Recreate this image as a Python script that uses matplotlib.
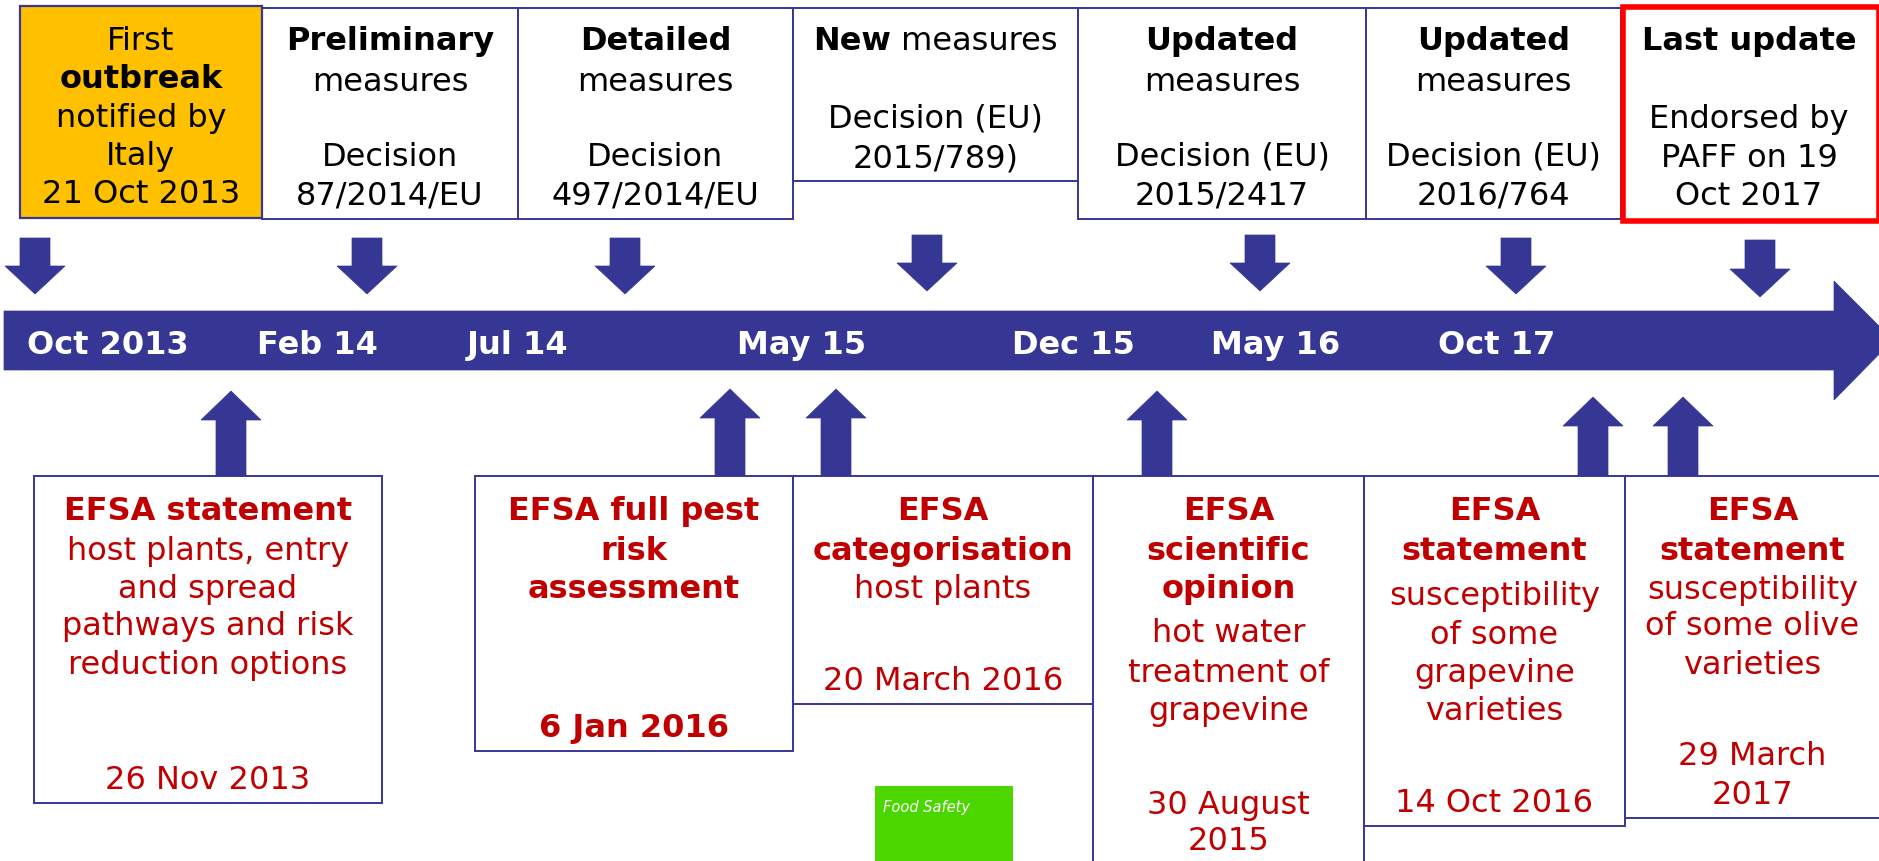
import matplotlib
matplotlib.use("Agg")
import matplotlib.pyplot as plt
from matplotlib.patches import Rectangle, Polygon, FancyArrow

NAVY = "#363795"
RED_TXT = "#c00000"
W, H = 1879, 862
FS = 23

# timeline labels on the band
band_labels = ["Oct 2013", "Feb 14", "Jul 14", "May 15", "Dec 15", "May 16", "Oct 17"]
band_x = [108, 317, 518, 802, 1073, 1276, 1497]

# top row: decisions (lines: text, bold)
top_edges = [20, 262, 518, 793, 1078, 1366, 1621, 1877]
top_bottoms = [219, 220, 220, 182, 220, 220, 221]
top_texts = [
    [("First", 0, 38), ("outbreak", 1, 76), ("notified by", 0, 115), ("Italy", 0, 153), ("21 Oct 2013", 0, 191)],
    [("Preliminary", 1, 38), ("measures", 0, 79), ("Decision", 0, 154), ("87/2014/EU", 0, 193)],
    [("Detailed", 1, 38), ("measures", 0, 79), ("Decision", 0, 154), ("497/2014/EU", 0, 193)],
    [(("New", " measures"), 2, 38), ("Decision (EU)", 0, 116), ("2015/789)", 0, 155)],
    [("Updated", 1, 38), ("measures", 0, 79), ("Decision (EU)", 0, 154), ("2015/2417", 0, 193)],
    [("Updated", 1, 38), ("measures", 0, 79), ("Decision (EU)", 0, 154), ("2016/764", 0, 193)],
    [("Last update", 1, 38), ("Endorsed by", 0, 116), ("PAFF on 19", 0, 155), ("Oct 2017", 0, 193)],
]
down_x = [35, 367, 625, 927, 1260, 1516, 1760]
down_top = [239, 239, 239, 236, 236, 239, 241]
down_tip = [295, 295, 295, 292, 292, 295, 298]

# bottom row: EFSA outputs
bot_boxes = [(34, 382, 804), (475, 793, 752), (793, 1093, 705),
             (1093, 1364, 880), (1364, 1625, 827), (1625, 1880, 819)]
bot_texts = [
    [("EFSA statement", 1, 508), ("host plants, entry", 0, 548), ("and spread", 0, 586),
     ("pathways and risk", 0, 623), ("reduction options", 0, 662), ("26 Nov 2013", 0, 777)],
    [("EFSA full pest", 1, 508), ("risk", 1, 548), ("assessment", 1, 586), ("6 Jan 2016", 1, 725)],
    [("EFSA", 1, 508), ("categorisation", 1, 548), ("host plants", 0, 586), ("20 March 2016", 0, 678)],
    [("EFSA", 1, 508), ("scientific", 1, 548), ("opinion", 1, 586), ("hot water", 0, 630),
     ("treatment of", 0, 670), ("grapevine", 0, 708), ("30 August", 0, 802), ("2015", 0, 838)],
    [("EFSA", 1, 508), ("statement", 1, 548), ("susceptibility", 0, 593), ("of some", 0, 632),
     ("grapevine", 0, 670), ("varieties", 0, 708), ("14 Oct 2016", 0, 800)],
    [("EFSA", 1, 508), ("statement", 1, 548), ("susceptibility", 0, 587), ("of some olive", 0, 623),
     ("varieties", 0, 662), ("29 March", 0, 753), ("2017", 0, 792)],
]
up_x = [231, 730, 836, 1157, 1593, 1683]
up_tip = [392, 390, 390, 392, 398, 398]
box_top = 477

fig = plt.figure(figsize=(W / 100, H / 100), dpi=100)
ax = fig.add_axes([0, 0, 1, 1])
ax.set_xlim(0, W)
ax.set_ylim(H, 0)
ax.axis("off")


def put(x, yc, s, bold, color):
    ax.text(x, yc + 12, s, ha="center", va="baseline", fontsize=FS, color=color,
            fontweight="bold" if bold else "normal", family="DejaVu Sans")


# top boxes
for i, lines in enumerate(top_texts):
    x0, x1 = top_edges[i], top_edges[i + 1]
    y0 = 7 if i in (0, 6) else 9
    if i == 0:
        ax.add_patch(Rectangle((x0, y0), x1 - x0, top_bottoms[i] - y0, fc="#FFC000", ec=NAVY, lw=1.6, zorder=2))
    elif i == 6:
        ax.add_patch(Rectangle((x0 + 2, y0 + 1), x1 - x0, top_bottoms[i] - y0, fc="white", ec="#FF0000", lw=4, zorder=3))
    else:
        ax.add_patch(Rectangle((x0, y0), x1 - x0, top_bottoms[i] - y0, fc="white", ec=NAVY, lw=1.4, zorder=1))
    xc = (x0 + x1) / 2
    for s, b, yc in lines:
        if b == 2:
            # mixed bold / regular line
            fig.canvas.draw()
            r = fig.canvas.get_renderer()
            t1 = ax.text(0, yc + 12, s[0], fontsize=FS, fontweight="bold", va="baseline", color="black", zorder=4)
            t2 = ax.text(0, yc + 12, s[1], fontsize=FS, va="baseline", color="black", zorder=4)
            w1 = t1.get_window_extent(r).width
            w2 = t2.get_window_extent(r).width
            left = xc - (w1 + w2) / 2
            t1.set_x(left)
            t2.set_x(left + w1)
        else:
            ax.text(xc, yc + 12, s, ha="center", va="baseline", fontsize=FS, color="black",
                    fontweight="bold" if b else "normal", zorder=4)

# down arrows
for x, t, tip in zip(down_x, down_top, down_tip):
    ax.add_patch(FancyArrow(x, t, 0, tip - t, width=30, head_width=60, head_length=28,
                            length_includes_head=True, fc=NAVY, ec=NAVY, lw=0.5))

# band
ax.add_patch(Polygon([(4, 312), (1834, 312), (1834, 282), (1893, 341), (1834, 401), (1834, 371), (4, 371)],
                     closed=True, fc=NAVY, ec=NAVY, lw=0.5))
for s, x in zip(band_labels, band_x):
    ax.text(x, 342 + 12, s, ha="center", va="baseline", fontsize=FS, color="white", fontweight="bold")

# up arrows
for x, tip in zip(up_x, up_tip):
    ax.add_patch(FancyArrow(x, box_top, 0, tip - box_top, width=30, head_width=60, head_length=29,
                            length_includes_head=True, fc=NAVY, ec=NAVY, lw=0.5))

# bottom boxes
for (x0, x1, yb), lines in zip(bot_boxes, bot_texts):
    ax.add_patch(Rectangle((x0, box_top), x1 - x0, yb - box_top, fc="white", ec=NAVY, lw=1.4, zorder=1))
    xc = (x0 + x1) / 2
    for s, b, yc in lines:
        ax.text(xc, yc + 12, s, ha="center", va="baseline", fontsize=FS, color=RED_TXT,
                fontweight="bold" if b else "normal", zorder=4)

# green logo patch
ax.add_patch(Rectangle((875, 787), 138, 90, fc="#4CD600", ec="none", zorder=2))
ax.text(883, 812, "Food Safety", ha="left", va="baseline", fontsize=10.5, color="white",
        style="italic", zorder=3)

fig.savefig("out.png", dpi=100)
